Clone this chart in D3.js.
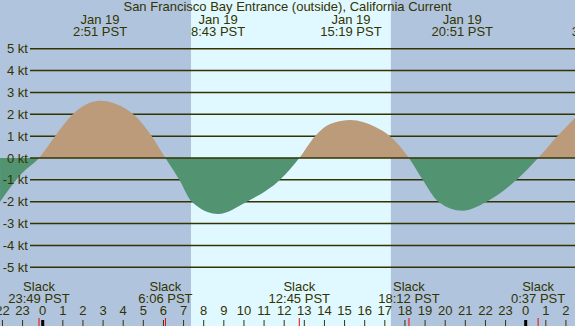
<!DOCTYPE html>
<html>
<head>
<meta charset="utf-8">
<script src="https://d3js.org/d3.v7.min.js"></script>
<style>
body { margin: 0; }
svg { display: block; font-family: "Liberation Sans", Arial, sans-serif; font-size: 13px; }
</style>
</head>
<body>
<div id="canvas"></div>
<script>

var width = 575;
var height = 326;
var title = "San Francisco Bay Entrance (outside), California Current";

// current speed: hours from midnight Jan 19 PST, knots (+ flood, - ebb)
var curveHours = [-2.12, -1.03, -0.183, 0.61, 1.49, 2.85, 4.5, 5.42, 6.1, 6.79, 7.4, 8.717, 10.14, 11.79, 12.75,
                  13.53, 14.28, 15.317, 16.51, 17.26, 18.2, 18.88, 19.66, 20.85, 22.06, 23.55, 24.617, 25.57, 26.51];
var curveKt = [-2.0, -0.7, 0, 1, 2, 2.62, 2, 1, 0, -1, -2, -2.56, -2, -1, 0,
               1, 1.56, 1.74, 1.43, 1, 0, -1, -2, -2.41, -2, -1, 0, 1, 1.89];

var slackHours = [-0.183, 6.1, 12.75, 18.2, 24.617];
var slackLabels = ["23:49 PST", "6:06 PST", "12:45 PST", "18:12 PST", "0:37 PST"];

var maxHours = [2.85, 8.717, 15.317, 20.85, 27.63];
var maxDates = ["Jan 19", "Jan 19", "Jan 19", "Jan 19", "Jan 20"];
var maxLabels = ["2:51 PST", "8:43 PST", "15:19 PST", "20:51 PST", "3:38 PST"];

var sunrise = 7.37;
var sunset = 17.3;

var ktTicks = [5, 4, 3, 2, 1, 0, -1, -2, -3, -4, -5];
var hourTicks = d3.range(-2, 27);

var ink = "#333300";
var nightColor = "#b0c4de";
var dayColor = "#e0f8ff";
var floodColor = "#bc9b7b";
var ebbColor = "#529472";

var x = d3.scaleLinear().domain([-2.122, 26.45]).range([0, width]);
var y = d3.scaleLinear().domain([-5, 5]).range([267.25, 48.75]);

var svg = d3.select("#canvas").append("svg").attr("width", width).attr("height", height);

// clip regions above / below zero
var defs = svg.append("defs");
defs.append("clipPath").attr("id", "above").append("rect")
    .attr("x", 0).attr("y", 0).attr("width", width).attr("height", y(0));
defs.append("clipPath").attr("id", "below").append("rect")
    .attr("x", 0).attr("y", y(0)).attr("width", width).attr("height", height - y(0));

// night / day background
var spans = [[-2.122, sunrise, nightColor], [sunrise, sunset, dayColor], [sunset, 26.45, nightColor]];
svg.selectAll("rect.bg").data(spans).enter().append("rect")
    .attr("x", function(d) { return x(d[0]); })
    .attr("y", 0)
    .attr("width", function(d) { return x(d[1]) - x(d[0]); })
    .attr("height", height)
    .attr("fill", function(d) { return d[2]; });

// grid lines (zero line goes on top later)
svg.selectAll("line.grid").data(ktTicks.filter(function(d) { return d != 0; })).enter().append("line")
    .attr("x1", 30).attr("x2", width)
    .attr("y1", function(d) { return y(d); })
    .attr("y2", function(d) { return y(d); })
    .attr("stroke", ink)
    .attr("stroke-width", 1.5);

var pts = curveHours.map(function(h, i) { return [h, curveKt[i]]; });

var area = d3.area()
    .x(function(d) { return x(d[0]); })
    .y0(y(0))
    .y1(function(d) { return y(d[1]); })
    .curve(d3.curveMonotoneX);

svg.append("path").attr("d", area(pts)).attr("fill", floodColor).attr("clip-path", "url(#above)");
svg.append("path").attr("d", area(pts)).attr("fill", ebbColor).attr("clip-path", "url(#below)");

svg.append("line")
    .attr("x1", 30).attr("x2", width)
    .attr("y1", y(0)).attr("y2", y(0))
    .attr("stroke", ink)
    .attr("stroke-width", 1.5);

// kt labels
svg.selectAll("text.kt").data(ktTicks).enter().append("text")
    .attr("x", 28)
    .attr("y", function(d) { return y(d); })
    .attr("dy", "0.35em")
    .attr("text-anchor", "end")
    .attr("fill", ink)
    .text(function(d) { return d + " kt"; });

// title
svg.append("text")
    .attr("x", width / 2).attr("y", 11)
    .attr("text-anchor", "middle")
    .attr("fill", ink)
    .text(title);

// max current labels
maxHours.forEach(function(h, i) {
    svg.append("text").attr("x", x(h)).attr("y", 24)
        .attr("text-anchor", "middle").attr("fill", ink).text(maxDates[i]);
    svg.append("text").attr("x", x(h)).attr("y", 36)
        .attr("text-anchor", "middle").attr("fill", ink).text(maxLabels[i]);
});

// slack labels
slackHours.forEach(function(h, i) {
    svg.append("text").attr("x", x(h)).attr("y", 291)
        .attr("text-anchor", "middle").attr("fill", ink).text("Slack");
    svg.append("text").attr("x", x(h)).attr("y", 303)
        .attr("text-anchor", "middle").attr("fill", ink).text(slackLabels[i]);
});

// hour axis
svg.selectAll("text.hr").data(hourTicks).enter().append("text")
    .attr("x", function(d) { return x(d); })
    .attr("y", 315)
    .attr("text-anchor", "middle")
    .attr("fill", ink)
    .text(function(d) { return (d + 24) % 24; });

svg.selectAll("line.hr").data(hourTicks).enter().append("line")
    .attr("x1", function(d) { return x(d); })
    .attr("x2", function(d) { return x(d); })
    .attr("y1", 320).attr("y2", height)
    .attr("stroke", function(d) { return d % 24 == 0 ? "#000" : ink; })
    .attr("stroke-width", function(d) { return d % 24 == 0 ? 3 : 1; });

svg.selectAll("line.slack").data(slackHours).enter().append("line")
    .attr("x1", function(d) { return x(d); })
    .attr("x2", function(d) { return x(d); })
    .attr("y1", 318).attr("y2", height)
    .attr("stroke", "red")
    .attr("stroke-width", 1);

</script>
</body>
</html>
